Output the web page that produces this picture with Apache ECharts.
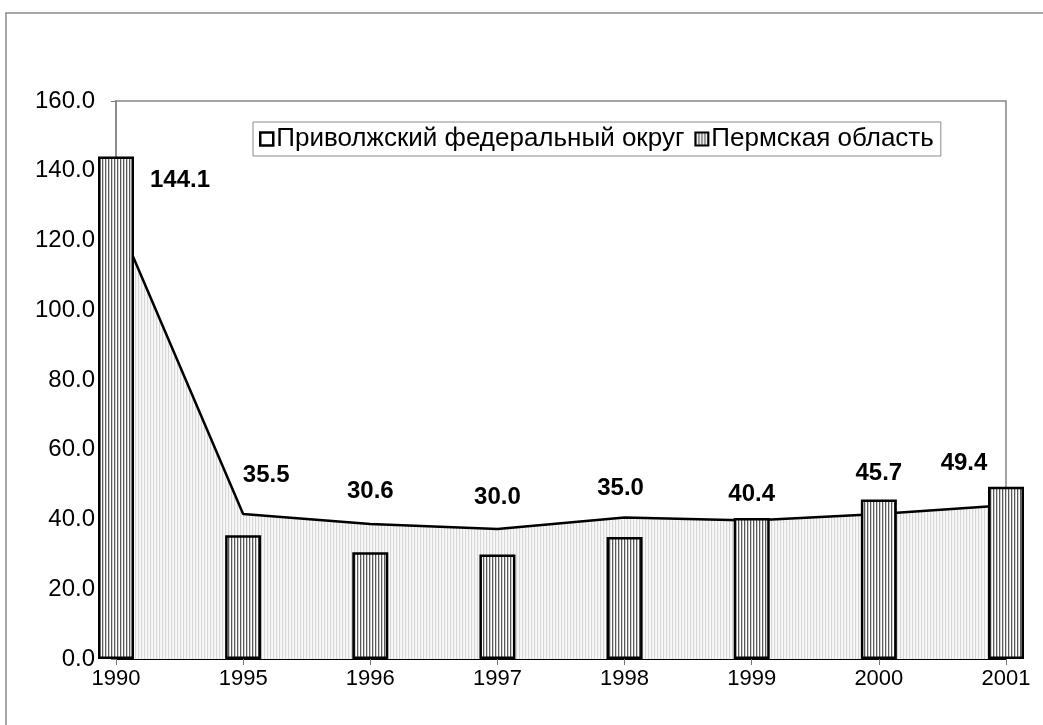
<!DOCTYPE html>
<html>
<head>
<meta charset="utf-8">
<script src="https://cdn.jsdelivr.net/npm/echarts@6/dist/echarts.min.js"></script>
<style>
html,body{margin:0;padding:0;background:#fff;}
#chart{width:1043px;height:725px;}
</style>
</head>
<body>
<div id="chart"></div>
<script>
// ---- data ----
const categories = ['1990', '1995', '1996', '1997', '1998', '1999', '2000', '2001'];
const volgaValues = [126.8, 41.6, 38.7, 37.3, 40.6, 39.7, 41.6, 44.1];   // Приволжский федеральный округ
const permValues = [144.1, 35.5, 30.6, 30.0, 35.0, 40.4, 45.7, 49.4];   // Пермская область
const yTicks = [0, 20, 40, 60, 80, 100, 120, 140, 160];
const seriesNames = ['Приволжский федеральный округ', 'Пермская область'];

// ---- styling helpers ----
function stripePattern(cols) {
  const c = document.createElement('canvas');
  c.width = cols.length; c.height = 4;
  const ctx = c.getContext('2d');
  cols.forEach((col, i) => { ctx.fillStyle = col; ctx.fillRect(i, 0, 1, 4); });
  return { image: c, repeat: 'repeat' };
}
const areaPattern = stripePattern(['#d6d6d6', '#f4f4f4', '#f9f9f9']);
const barPattern = stripePattern(['#5a5a5a', '#cfcfcf', '#ffffff']);
const labelOffsets = [[64, 34], [23, -50], [0, -51], [0, -47], [-4, -39], [0, -14], [0, -16], [-42, -13]];

const chart = echarts.init(document.getElementById('chart'), null, { renderer: 'canvas' });
chart.setOption({
  animation: false,
  backgroundColor: '#ffffff',
  textStyle: { fontFamily: 'Liberation Sans, Arial, sans-serif' },
  graphic: [{
    type: 'rect', silent: true, z: -10,
    shape: { x: 6, y: 13, width: 1200, height: 900 },
    style: { fill: 'none', stroke: '#8a8a8a', lineWidth: 1.5 }
  }],
  grid: { left: 116, right: 37, top: 101, bottom: 66, show: true, borderColor: '#858585', borderWidth: 1.5, containLabel: false },
  legend: {
    left: 253, top: 122,
    padding: [4, 7, 4, 6],
    borderColor: '#8a8a8a', borderWidth: 1,
    itemWidth: 13, itemHeight: 13, itemGap: 10,
    textStyle: { fontSize: 26, color: '#000', fontFamily: 'Liberation Sans, Arial, sans-serif', padding: [0, 0, 0, -2] },
    data: [
      { name: seriesNames[0], icon: 'rect', itemStyle: { color: '#ffffff', borderColor: '#000', borderWidth: 2.5 } },
      { name: seriesNames[1], icon: 'rect', itemStyle: { color: barPattern, borderColor: '#000', borderWidth: 2 } }
    ]
  },
  xAxis: {
    type: 'category', data: categories, boundaryGap: false,
    axisLine: { lineStyle: { color: '#000', width: 2 } },
    axisTick: { show: true, length: 6, lineStyle: { color: '#777' } },
    axisLabel: { color: '#000', fontSize: 22, margin: 9 },
    splitLine: { show: false }
  },
  yAxis: {
    type: 'value', min: 0, max: 160, interval: 20,
    axisLine: { show: true, lineStyle: { color: '#858585', width: 1.5 } },
    axisTick: { show: true, length: 5, lineStyle: { color: '#777' } },
    axisLabel: { color: '#000', fontSize: 24, margin: 21, formatter: v => yTicks.includes(v) ? v.toFixed(1) : '' },
    splitLine: { show: false }
  },
  series: [
    {
      name: seriesNames[0], type: 'line', data: volgaValues,
      symbol: 'none', clip: false,
      lineStyle: { color: '#000', width: 2.5 },
      itemStyle: { color: '#fff' },
      areaStyle: { color: areaPattern, opacity: 1 },
      z: 2
    },
    {
      name: seriesNames[1], type: 'bar', clip: false,
      data: permValues.map((v, i) => ({
        value: v,
        label: { offset: labelOffsets[i] }
      })),
      barWidth: 36,
      itemStyle: { color: barPattern, borderColor: '#000', borderWidth: 2.5 },
      label: {
        show: true, position: 'top', distance: 0,
        color: '#000', fontSize: 24, fontWeight: 'bold', lineHeight: 20,
        formatter: p => p.value.toFixed(1)
      },
      z: 3
    }
  ]
});
</script>
</body>
</html>
